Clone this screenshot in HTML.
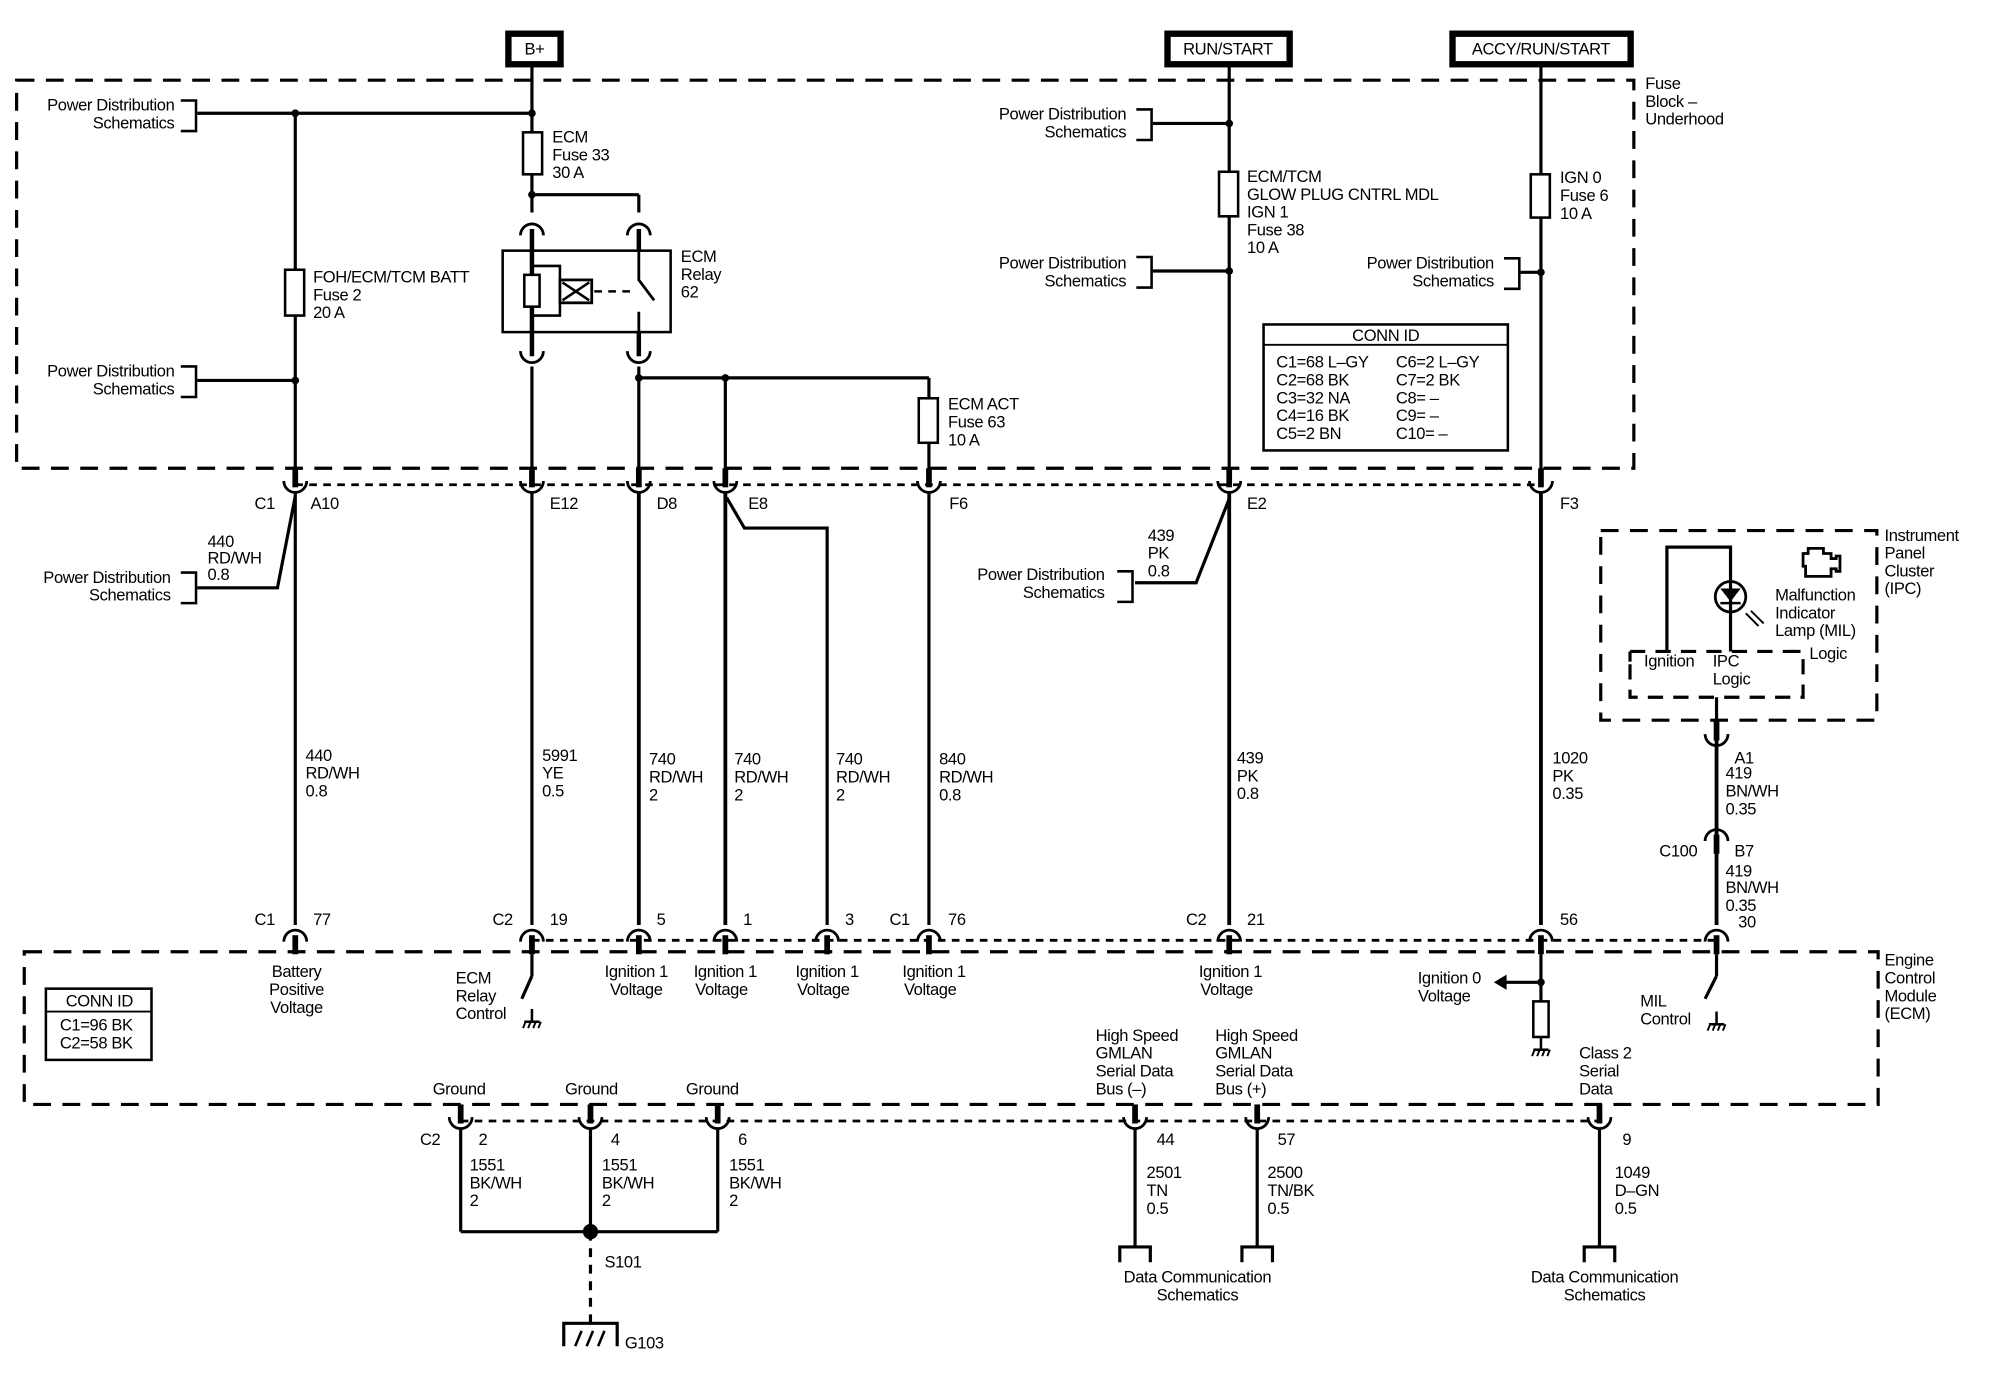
<!DOCTYPE html>
<html><head><meta charset="utf-8"><style>
html,body{margin:0;padding:0;background:#fff}
svg{display:block}
text{font-family:"Liberation Sans",Arial,sans-serif;font-size:13px;fill:#000;letter-spacing:-0.3px}
</style></head><body>
<svg width="1994" height="1392" viewBox="0 0 1567 1094" xmlns="http://www.w3.org/2000/svg">
<defs>
<g id="cu"><path d="M-9,-3 A9,9 0 0 0 9,-3" fill="none" stroke="#000" stroke-width="2.2"/><line x1="0" y1="-13" x2="0" y2="2" stroke="#000" stroke-width="4.5"/></g>
<g id="cn"><path d="M-9,3 A9,9 0 0 1 9,3" fill="none" stroke="#000" stroke-width="2.2"/><line x1="0" y1="-2" x2="0" y2="13" stroke="#000" stroke-width="4.5"/></g>
<g id="gnd"><line x1="0" y1="0" x2="0" y2="10" stroke="#000" stroke-width="2"/><line x1="-6" y1="10" x2="6" y2="10" stroke="#000" stroke-width="2"/><path d="M-5,10 l-2,5 M-1,10 l-2,5 M3,10 l-2,5 M7,10 l-2,5" stroke="#000" stroke-width="1.5"/></g>
</defs>
<g stroke="#000" fill="none">
<rect x="399.5" y="26.5" width="41" height="24" stroke-width="5"/>
<rect x="917.5" y="26.5" width="96" height="24" stroke-width="5"/>
<rect x="1141.5" y="26.5" width="140" height="24" stroke-width="5"/>
<rect x="13" y="63" width="1271" height="305" stroke-width="2.5" stroke-dasharray="14,9"/>
<rect x="19" y="748" width="1457" height="120" stroke-width="2.5" stroke-dasharray="14,9"/>
<rect x="1258" y="417" width="217" height="149" stroke-width="2.5" stroke-dasharray="14,9"/>
<path d="M1281,520 v-8 M1281,522 v26 h136 v-36 h-10" stroke-width="2.5" stroke-dasharray="12,8"/>
<path d="M1281,512 h130" stroke-width="2.5" stroke-dasharray="12,8"/>
<line x1="232" y1="381" x2="1211" y2="381" stroke-width="2.2" stroke-dasharray="6,5"/>
<line x1="418" y1="739" x2="1349" y2="739" stroke-width="2.2" stroke-dasharray="6,5"/>
<line x1="362" y1="881" x2="1257" y2="881" stroke-width="2.2" stroke-dasharray="6,5"/>
<g stroke-width="2.5">
<line x1="418" y1="51" x2="418" y2="167"/>
<line x1="155" y1="89" x2="418" y2="89"/>
<line x1="418" y1="153" x2="502" y2="153"/><line x1="502" y1="153" x2="502" y2="167"/>
<line x1="232" y1="89" x2="232" y2="372"/>
<line x1="155" y1="299" x2="232" y2="299"/>
<line x1="418" y1="288" x2="418" y2="372"/>
<line x1="502" y1="288" x2="502" y2="372"/>
<line x1="502" y1="297" x2="730" y2="297"/>
<line x1="570" y1="297" x2="570" y2="372"/>
<line x1="730" y1="297" x2="730" y2="372"/>
<line x1="966" y1="51" x2="966" y2="372"/>
<line x1="1211" y1="51" x2="1211" y2="372"/>
<line x1="906" y1="97" x2="966" y2="97"/>
<line x1="906" y1="213" x2="966" y2="213"/>
<line x1="1195" y1="214" x2="1211" y2="214"/>
<line x1="232" y1="386" x2="232" y2="727"/>
<path d="M232,390 L218,462 H155"/>
<line x1="418" y1="386" x2="418" y2="727"/>
<line x1="502" y1="386" x2="502" y2="727" stroke-width="3"/>
<line x1="570" y1="386" x2="570" y2="727" stroke-width="3"/>
<path d="M571,391 L585,415 H650 V727"/>
<line x1="730" y1="386" x2="730" y2="727"/>
<line x1="966" y1="386" x2="966" y2="727" stroke-width="3"/>
<path d="M966,392 L940,458 H892"/>
<line x1="1211" y1="386" x2="1211" y2="727" stroke-width="3"/>
<line x1="1349" y1="566" x2="1349" y2="727" stroke-width="3"/>
<line x1="418" y1="750" x2="418" y2="767"/><path d="M418,767 L410,785"/>
<line x1="1211" y1="750" x2="1211" y2="787"/>
<line x1="1182" y1="772" x2="1211" y2="772"/>
<rect x="1205" y="787" width="12" height="28" stroke-width="2"/>
<line x1="1349" y1="750" x2="1349" y2="767"/><path d="M1349,767 L1340,785"/>
<line x1="362" y1="886" x2="362" y2="968"/>
<line x1="464" y1="886" x2="464" y2="968"/>
<line x1="564" y1="886" x2="564" y2="968"/>
<line x1="362" y1="968" x2="564" y2="968"/>
<line x1="464" y1="968" x2="464" y2="1040" stroke-dasharray="7,6"/>
<line x1="892" y1="886" x2="892" y2="980"/>
<line x1="988" y1="886" x2="988" y2="980"/>
<line x1="1257" y1="886" x2="1257" y2="980"/>
<path d="M880,992 v-12 h24 v12 M976,992 v-12 h24 v12 M1245,992 v-12 h24 v12"/>
<path d="M1310,512 V430 H1360 V512"/>
<line x1="1349" y1="548" x2="1349" y2="566"/>
</g>
<path d="M443,1058 V1040 H485 V1058" stroke-width="2.5"/>
<path d="M452,1058 l5,-12 M461,1058 l5,-12 M470,1058 l5,-12" stroke-width="2"/>
<g fill="#fff" stroke-width="2">
<rect x="411" y="104" width="15" height="33"/>
<rect x="224" y="212" width="15" height="36"/>
<rect x="722" y="313" width="15" height="35"/>
<rect x="958" y="135" width="15" height="35"/>
<rect x="1203" y="137" width="15" height="34"/>
</g>
<rect x="395" y="197" width="132" height="64" stroke-width="2"/>
<line x1="418" y1="180" x2="418" y2="280" stroke-width="3.5"/>
<line x1="502" y1="180" x2="502" y2="197" stroke-width="3.5"/>
<line x1="502" y1="261" x2="502" y2="280" stroke-width="3.5"/>
<path d="M418,209 H440 V220 M418,248 H440 V238" stroke-width="2"/>
<rect x="412" y="216" width="12" height="25" fill="#fff" stroke-width="2"/>
<rect x="440" y="220" width="25" height="18" fill="#fff" stroke-width="2.2"/>
<path d="M442,222 L463,236 M463,222 L442,236" stroke-width="2"/>
<path d="M467,229 H495" stroke-width="2" stroke-dasharray="6,5"/>
<path d="M502,197 V220 L514,236 M502,245 V261" stroke-width="2.2"/>
<path d="M409,185 A9,9 0 0 1 427,185 M493,185 A9,9 0 0 1 511,185" stroke-width="2.2"/>
<path d="M409,276 A9,9 0 0 0 427,276 M493,276 A9,9 0 0 0 511,276" stroke-width="2.2"/>
<rect x="993" y="255" width="192" height="99" stroke-width="2"/>
<line x1="993" y1="271" x2="1185" y2="271" stroke-width="1.5"/>
<rect x="36" y="777" width="83" height="56" stroke-width="2"/>
<line x1="36" y1="795" x2="119" y2="795" stroke-width="1.5"/>
<path d="M142,79 h12 v24 h-12" stroke-width="2"/>
<path d="M142,288 h12 v24 h-12" stroke-width="2"/>
<path d="M142,450 h12 v24 h-12" stroke-width="2"/>
<path d="M893,86 h12 v24 h-12" stroke-width="2"/>
<path d="M893,202 h12 v24 h-12" stroke-width="2"/>
<path d="M878,449 h12 v24 h-12" stroke-width="2"/>
<path d="M1182,203 h12 v24 h-12" stroke-width="2"/>
<circle cx="1360" cy="469" r="12" stroke-width="2.2"/>
<path d="M1353,463 h14 l-7,9 z" fill="#000"/><line x1="1352" y1="474" x2="1368" y2="474" stroke-width="2"/>
<path d="M1372,482 l10,10 M1376,480 l10,10" stroke-width="1.5"/>
<path d="M1417,445 v-10 h4 v-4 h12 v4 h6 v4 h4 v-2 h3 v12 h-3 v-2 h-4 v6 h-20 v-8 z" stroke-width="2.2"/>
</g>
<g fill="#000">
<circle cx="232" cy="89" r="3"/><circle cx="418" cy="89" r="3"/><circle cx="418" cy="153" r="3"/>
<circle cx="232" cy="299" r="3"/><circle cx="502" cy="297" r="3"/><circle cx="570" cy="297" r="3"/>
<circle cx="966" cy="97" r="3"/><circle cx="966" cy="213" r="3"/><circle cx="1211" cy="214" r="3"/>
<circle cx="1211" cy="772" r="3"/><circle cx="464" cy="968" r="6"/>
<path d="M1174,772 l10,-6 v12 z"/>
</g>
<use href="#cu" x="232" y="381"/><use href="#cu" x="418" y="381"/><use href="#cu" x="502" y="381"/><use href="#cu" x="570" y="381"/><use href="#cu" x="730" y="381"/><use href="#cu" x="966" y="381"/><use href="#cu" x="1211" y="381"/>
<use href="#cn" x="232" y="737"/><use href="#cn" x="418" y="737"/><use href="#cn" x="502" y="737"/><use href="#cn" x="570" y="737"/><use href="#cn" x="650" y="737"/><use href="#cn" x="730" y="737"/><use href="#cn" x="966" y="737"/><use href="#cn" x="1211" y="737"/><use href="#cn" x="1349" y="737"/>
<use href="#cu" x="362" y="881"/><use href="#cu" x="464" y="881"/><use href="#cu" x="564" y="881"/><use href="#cu" x="892" y="881"/><use href="#cu" x="988" y="881"/><use href="#cu" x="1257" y="881"/>
<use href="#cu" x="1349" y="580"/><use href="#cn" x="1349" y="658"/>
<use href="#gnd" x="418" y="793"/>
<use href="#gnd" x="1211" y="815"/>
<use href="#gnd" x="1349" y="795"/>
<g>
<text x="420" y="43" text-anchor="middle">B+</text>
<text x="965" y="43" text-anchor="middle">RUN/START</text>
<text x="1211" y="43" text-anchor="middle">ACCY/RUN/START</text>
<text x="1293" y="70">Fuse</text><text x="1293" y="84">Block –</text><text x="1293" y="98">Underhood</text>
<g text-anchor="end">
<text x="137" y="87">Power Distribution</text><text x="137" y="101">Schematics</text>
<text x="137" y="296">Power Distribution</text><text x="137" y="310">Schematics</text>
<text x="134" y="458">Power Distribution</text><text x="134" y="472">Schematics</text>
<text x="885" y="94">Power Distribution</text><text x="885" y="108">Schematics</text>
<text x="885" y="211">Power Distribution</text><text x="885" y="225">Schematics</text>
<text x="868" y="456">Power Distribution</text><text x="868" y="470">Schematics</text>
<text x="1174" y="211">Power Distribution</text><text x="1174" y="225">Schematics</text>
</g>
<text x="434" y="112">ECM</text><text x="434" y="126">Fuse 33</text><text x="434" y="140">30 A</text>
<text x="535" y="206">ECM</text><text x="535" y="220">Relay</text><text x="535" y="234">62</text>
<text x="246" y="222">FOH/ECM/TCM BATT</text><text x="246" y="236">Fuse 2</text><text x="246" y="250">20 A</text>
<text x="745" y="322">ECM ACT</text><text x="745" y="336">Fuse 63</text><text x="745" y="350">10 A</text>
<text x="980" y="143">ECM/TCM</text><text x="980" y="157">GLOW PLUG CNTRL MDL</text><text x="980" y="171">IGN 1</text><text x="980" y="185">Fuse 38</text><text x="980" y="199">10 A</text>
<text x="1226" y="144">IGN 0</text><text x="1226" y="158">Fuse 6</text><text x="1226" y="172">10 A</text>
<text x="1089" y="268" text-anchor="middle">CONN ID</text>
<text x="1003" y="289">C1=68 L–GY</text><text x="1003" y="303">C2=68 BK</text><text x="1003" y="317">C3=32 NA</text><text x="1003" y="331">C4=16 BK</text><text x="1003" y="345">C5=2 BN</text>
<text x="1097" y="289">C6=2 L–GY</text><text x="1097" y="303">C7=2 BK</text><text x="1097" y="317">C8= –</text><text x="1097" y="331">C9= –</text><text x="1097" y="345">C10= –</text>
<text x="200" y="400">C1</text><text x="244" y="400">A10</text><text x="432" y="400">E12</text><text x="516" y="400">D8</text><text x="588" y="400">E8</text><text x="746" y="400">F6</text><text x="980" y="400">E2</text><text x="1226" y="400">F3</text>
<text x="163" y="430">440</text><text x="163" y="443">RD/WH</text><text x="163" y="456">0.8</text>
<text x="902" y="425">439</text><text x="902" y="439">PK</text><text x="902" y="453">0.8</text>
<text x="240" y="598">440</text><text x="240" y="612">RD/WH</text><text x="240" y="626">0.8</text>
<text x="426" y="598">5991</text><text x="426" y="612">YE</text><text x="426" y="626">0.5</text>
<text x="510" y="601">740</text><text x="510" y="615">RD/WH</text><text x="510" y="629">2</text>
<text x="577" y="601">740</text><text x="577" y="615">RD/WH</text><text x="577" y="629">2</text>
<text x="657" y="601">740</text><text x="657" y="615">RD/WH</text><text x="657" y="629">2</text>
<text x="738" y="601">840</text><text x="738" y="615">RD/WH</text><text x="738" y="629">0.8</text>
<text x="972" y="600">439</text><text x="972" y="614">PK</text><text x="972" y="628">0.8</text>
<text x="1220" y="600">1020</text><text x="1220" y="614">PK</text><text x="1220" y="628">0.35</text>
<text x="1363" y="600">A1</text><text x="1356" y="612">419</text><text x="1356" y="626">BN/WH</text><text x="1356" y="640">0.35</text>
<text x="1304" y="673">C100</text><text x="1363" y="673">B7</text><text x="1356" y="689">419</text><text x="1356" y="702">BN/WH</text><text x="1356" y="716">0.35</text><text x="1366" y="729">30</text>
<text x="1481" y="425">Instrument</text><text x="1481" y="439">Panel</text><text x="1481" y="453">Cluster</text><text x="1481" y="467">(IPC)</text>
<text x="1395" y="472">Malfunction</text><text x="1395" y="486">Indicator</text><text x="1395" y="500">Lamp (MIL)</text>
<text x="1422" y="518">Logic</text><text x="1292" y="524">Ignition</text><text x="1346" y="524">IPC</text><text x="1346" y="538">Logic</text>
<text x="200" y="727">C1</text><text x="246" y="727">77</text><text x="387" y="727">C2</text><text x="432" y="727">19</text><text x="516" y="727">5</text><text x="584" y="727">1</text><text x="664" y="727">3</text><text x="699" y="727">C1</text><text x="745" y="727">76</text><text x="932" y="727">C2</text><text x="980" y="727">21</text><text x="1226" y="727">56</text>
<text x="1481" y="759">Engine</text><text x="1481" y="773">Control</text><text x="1481" y="787">Module</text><text x="1481" y="801">(ECM)</text>
<g text-anchor="middle">
<text x="233" y="768">Battery</text><text x="233" y="782">Positive</text><text x="233" y="796">Voltage</text>
<text x="500" y="768">Ignition 1</text><text x="500" y="782">Voltage</text>
<text x="570" y="768">Ignition 1</text><text x="567" y="782">Voltage</text>
<text x="650" y="768">Ignition 1</text><text x="647" y="782">Voltage</text>
<text x="734" y="768">Ignition 1</text><text x="731" y="782">Voltage</text>
<text x="967" y="768">Ignition 1</text><text x="964" y="782">Voltage</text>
<text x="1139" y="773">Ignition 0</text><text x="1135" y="787">Voltage</text>
<text x="78" y="791">CONN ID</text>
</g>
<text x="358" y="773">ECM</text><text x="358" y="787">Relay</text><text x="358" y="801">Control</text>
<text x="1289" y="791">MIL</text><text x="1289" y="805">Control</text>
<text x="47" y="810">C1=96 BK</text><text x="47" y="824">C2=58 BK</text>
<text x="861" y="818">High Speed</text><text x="861" y="832">GMLAN</text><text x="861" y="846">Serial Data</text><text x="861" y="860">Bus (–)</text>
<text x="955" y="818">High Speed</text><text x="955" y="832">GMLAN</text><text x="955" y="846">Serial Data</text><text x="955" y="860">Bus (+)</text>
<text x="1241" y="832">Class 2</text><text x="1241" y="846">Serial</text><text x="1241" y="860">Data</text>
<text x="340" y="860">Ground</text><text x="444" y="860">Ground</text><text x="539" y="860">Ground</text>
<text x="330" y="900">C2</text><text x="376" y="900">2</text><text x="480" y="900">4</text><text x="580" y="900">6</text><text x="909" y="900">44</text><text x="1004" y="900">57</text><text x="1275" y="900">9</text>
<text x="369" y="920">1551</text><text x="369" y="934">BK/WH</text><text x="369" y="948">2</text>
<text x="473" y="920">1551</text><text x="473" y="934">BK/WH</text><text x="473" y="948">2</text>
<text x="573" y="920">1551</text><text x="573" y="934">BK/WH</text><text x="573" y="948">2</text>
<text x="901" y="926">2501</text><text x="901" y="940">TN</text><text x="901" y="954">0.5</text>
<text x="996" y="926">2500</text><text x="996" y="940">TN/BK</text><text x="996" y="954">0.5</text>
<text x="1269" y="926">1049</text><text x="1269" y="940">D–GN</text><text x="1269" y="954">0.5</text>
<text x="475" y="996">S101</text><text x="491" y="1060">G103</text>
<g text-anchor="middle">
<text x="941" y="1008">Data Communication</text><text x="941" y="1022">Schematics</text>
<text x="1261" y="1008">Data Communication</text><text x="1261" y="1022">Schematics</text>
</g>
</g>
</svg>
</body></html>
